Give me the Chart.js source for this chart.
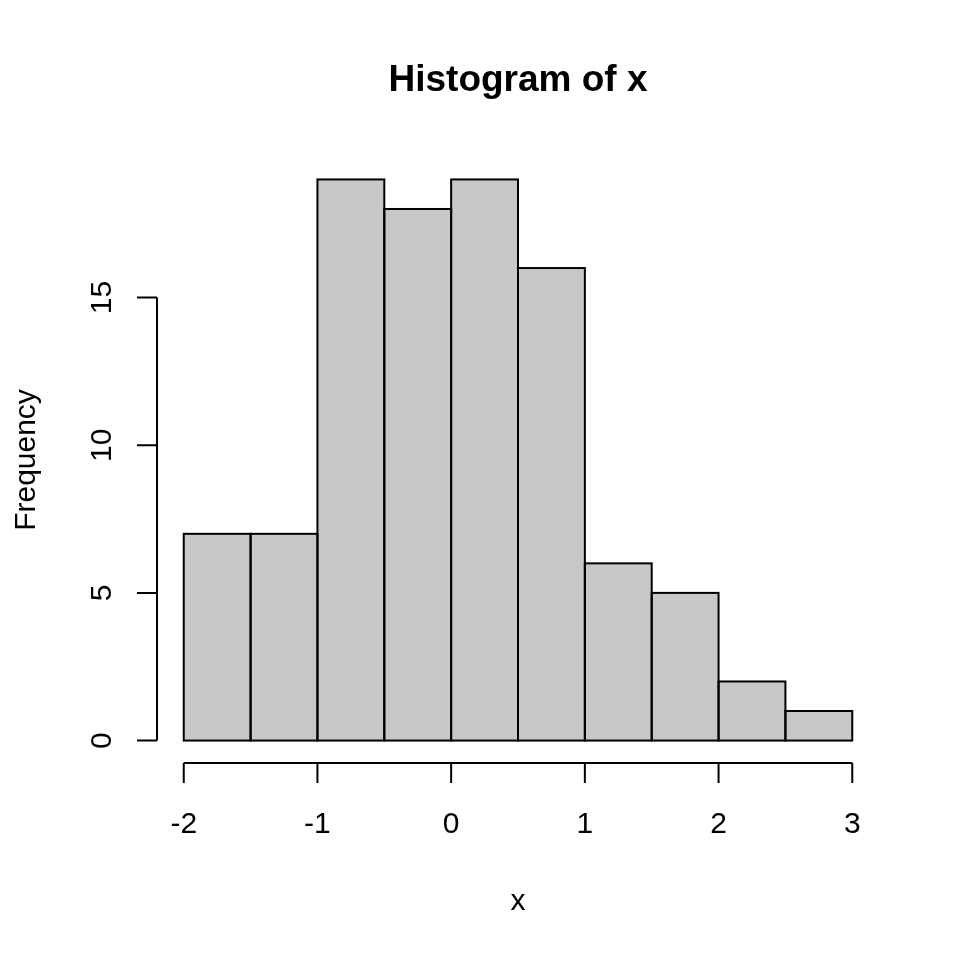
<!DOCTYPE html>
<html><head><meta charset="utf-8">
<style>html,body{margin:0;padding:0;background:#fff}#wrap{width:960px;height:960px}</style>
<script src="https://cdn.jsdelivr.net/npm/chart.js@4/dist/chart.umd.min.js"></script>
</head><body><div id="wrap"><canvas id="c" width="960" height="960"></canvas></div>
<script>
const breaks = [-2, -1.5, -1, -0.5, 0, 0.5, 1, 1.5, 2, 2.5, 3];
const counts = [7, 7, 19, 18, 19, 16, 6, 5, 2, 1];
const xTicks = [-2, -1, 0, 1, 2, 3];
const yTicks = [0, 5, 10, 15];
const titleText = 'Histogram of x';
const xLabel = 'x';
const yLabel = 'Frequency';

const FONT = '"Liberation Sans", Arial, Helvetica, sans-serif';
const points = counts.map((c, i) => ({ x: (breaks[i] + breaks[i + 1]) / 2, y: c }));

const rPlot = {
  id: 'rPlot',
  afterDatasetsDraw(chart) {
    const ctx = chart.ctx;
    ctx.save();
    ctx.strokeStyle = '#000';
    ctx.lineWidth = 2;
    chart.getDatasetMeta(0).data.forEach(el => {
      const p = el.getProps(['x', 'y', 'base', 'width'], true);
      ctx.strokeRect(p.x - p.width / 2, p.y, p.width, p.base - p.y);
    });
    ctx.restore();
  },
  afterDraw(chart) {
    const ctx = chart.ctx, xs = chart.scales.x, ys = chart.scales.y, ca = chart.chartArea;
    const axY = ca.bottom, axX = ca.left, tl = 20;
    ctx.save();
    ctx.strokeStyle = '#000';
    ctx.lineWidth = 2;
    ctx.fillStyle = '#000';
    // x axis
    ctx.beginPath();
    ctx.moveTo(xs.getPixelForValue(xTicks[0]), axY);
    ctx.lineTo(xs.getPixelForValue(xTicks[xTicks.length - 1]), axY);
    xTicks.forEach(t => { const px = xs.getPixelForValue(t); ctx.moveTo(px, axY); ctx.lineTo(px, axY + tl); });
    // y axis
    ctx.moveTo(axX, ys.getPixelForValue(yTicks[0]));
    ctx.lineTo(axX, ys.getPixelForValue(yTicks[yTicks.length - 1]));
    yTicks.forEach(t => { const py = ys.getPixelForValue(t); ctx.moveTo(axX, py); ctx.lineTo(axX - tl, py); });
    ctx.stroke();
    // tick labels
    ctx.font = '30px ' + FONT;
    ctx.textAlign = 'center';
    ctx.textBaseline = 'alphabetic';
    xTicks.forEach(t => ctx.fillText(String(t), xs.getPixelForValue(t), axY + 70));
    yTicks.forEach(t => {
      ctx.save();
      ctx.translate(axX - 46, ys.getPixelForValue(t));
      ctx.rotate(-Math.PI / 2);
      ctx.fillText(String(t), 0, 0);
      ctx.restore();
    });
    // axis titles
    const cx = (ca.left + ca.right) / 2, cy = (ca.top + ca.bottom) / 2;
    ctx.fillText(xLabel, cx, 910);
    ctx.save();
    ctx.translate(35, cy);
    ctx.rotate(-Math.PI / 2);
    ctx.fillText(yLabel, 0, 0);
    ctx.restore();
    // title
    ctx.font = 'bold 37px ' + FONT;
    ctx.fillText(titleText, cx, 91);
    ctx.restore();
  }
};

new Chart(document.getElementById('c'), {
  type: 'bar',
  data: {
    datasets: [{
      data: points,
      backgroundColor: '#c8c8c8',
      borderWidth: 0,
      barPercentage: 1,
      categoryPercentage: 1
    }]
  },
  options: {
    responsive: false,
    animation: false,
    devicePixelRatio: 1,
    layout: { padding: { left: 157, right: 81, top: 157, bottom: 197 } },
    plugins: { legend: { display: false }, tooltip: { enabled: false }, title: { display: false } },
    scales: {
      x: { type: 'linear', display: false, offset: false, min: -2.2, max: 3.2, grid: { offset: false } },
      y: { type: 'linear', display: false, min: -0.76, max: 19.76 }
    }
  },
  plugins: [rPlot]
});
</script>
</body></html>
